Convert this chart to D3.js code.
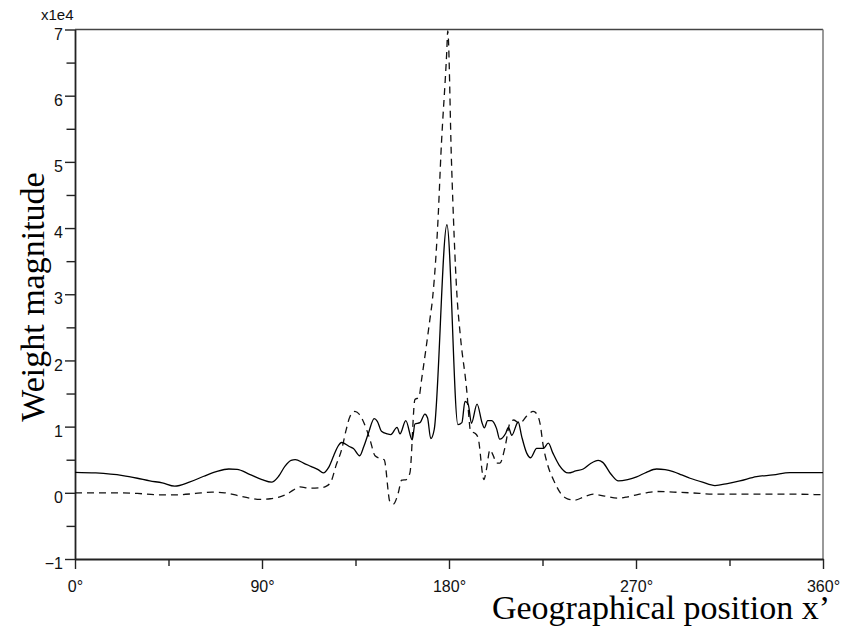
<!DOCTYPE html>
<html>
<head>
<meta charset="utf-8">
<script src="https://cdn.jsdelivr.net/npm/d3@7"></script>
<style>
  html, body { margin: 0; padding: 0; background: #fff; }
  svg { display: block; }
</style>
</head>
<body>
<svg id="chart" width="841" height="630"></svg>
<script>
// ---- data (values in units of 1e4) ----
const solidX = [0, 10, 23, 30, 36, 42, 48, 55, 62, 68, 74, 78, 84, 90, 94.6, 98, 101, 104, 106, 110, 113.5, 117, 119.5, 122, 124.5, 126.5, 128.3, 132, 134, 137, 139, 141.2, 144, 145.5, 147.5, 150.3, 152, 155, 156.4, 159.2, 162.3, 163.6, 166, 168.4, 169.7, 171.2, 172.9, 179, 184.3, 186.2, 187.7, 189.3, 190.8, 193.5, 195.9, 197, 198.6, 200.5, 202.9, 204.4, 207.3, 208.6, 210.2, 213.3, 215, 217.4, 219.3, 222.2, 225.4, 227.8, 230, 233, 237.4, 241, 244.6, 248, 251.8, 254, 258, 261.5, 266, 270.3, 275, 279.9, 284, 287.9, 292, 296, 302, 308, 314, 320, 328, 336, 344, 352, 360];
const solidY = [0.31, 0.30, 0.26, 0.22, 0.18, 0.15, 0.10, 0.16, 0.25, 0.32, 0.36, 0.355, 0.28, 0.20, 0.16, 0.25, 0.40, 0.49, 0.50, 0.45, 0.40, 0.35, 0.30, 0.38, 0.56, 0.70, 0.76, 0.70, 0.67, 0.56, 0.70, 0.90, 1.12, 1.08, 0.93, 0.89, 0.88, 0.99, 0.89, 1.09, 0.80, 1.04, 1.06, 1.19, 1.13, 0.82, 0.96, 4.05, 1.03, 1.06, 1.38, 1.33, 1.05, 1.34, 1.06, 0.98, 1.09, 1.09, 0.97, 0.81, 0.90, 0.99, 0.87, 1.07, 0.85, 0.60, 0.53, 0.67, 0.67, 0.75, 0.60, 0.42, 0.30, 0.33, 0.36, 0.44, 0.49, 0.46, 0.28, 0.18, 0.20, 0.24, 0.31, 0.36, 0.35, 0.32, 0.27, 0.22, 0.16, 0.11, 0.14, 0.18, 0.245, 0.27, 0.305, 0.305, 0.305];

const dashX = [0, 20, 30, 41, 49, 58, 66, 72, 78, 84, 89, 94, 98.6, 102, 105, 108.3, 113, 118, 121, 123.5, 125.5, 128.3, 130.5, 132.3, 134.7, 137, 140.4, 142, 144.4, 146.8, 148.8, 151.6, 153.2, 155.6, 157.2, 159.5, 161.2, 163.6, 165.5, 166.8, 170.8, 172.1, 174.8, 176.1, 178.9, 179.4, 181.2, 183.8, 185.5, 188.8, 189.3, 190.4, 192.5, 194, 196.8, 198, 199.7, 201.2, 202.9, 204.5, 206.9, 209.3, 211.2, 214, 217.4, 220.5, 222.5, 223.8, 225.4, 227.4, 230.3, 234.3, 237, 240.6, 245, 249.4, 255, 261.5, 266, 270.3, 275, 279.9, 288, 296, 308, 328, 344, 360];
const dashY = [0.0, 0.0, -0.01, -0.03, -0.03, -0.01, 0.01, 0.0, -0.04, -0.08, -0.10, -0.09, -0.06, -0.02, 0.04, 0.09, 0.07, 0.075, 0.10, 0.19, 0.40, 0.65, 0.95, 1.15, 1.23, 1.18, 0.95, 0.80, 0.56, 0.52, 0.50, -0.14, -0.17, 0.0, 0.19, 0.20, 0.30, 1.41, 1.44, 1.71, 2.62, 2.94, 4.18, 5.11, 6.65, 6.98, 5.0, 3.0, 2.36, 1.45, 1.25, 0.93, 0.90, 0.83, 0.20, 0.35, 0.65, 0.57, 0.45, 0.45, 0.68, 1.05, 1.10, 1.05, 1.16, 1.23, 1.18, 1.05, 0.70, 0.43, 0.195, -0.03, -0.09, -0.11, -0.06, -0.02, -0.05, -0.08, -0.06, -0.03, 0.0, 0.02, 0.01, 0.0, -0.02, -0.02, -0.02, -0.03];

const yMajorTicks = [-1, 0, 1, 2, 3, 4, 5, 6, 7];
const yMinorTicks = [-0.5, 0.5, 1.5, 2.5, 3.5, 4.5, 5.5, 6.5];
const xMajorTicks = [0, 90, 180, 270, 360];
const xMinorTicks = [45, 135, 225, 315];
const xTickLabels = ["0°", "90°", "180°", "270°", "360°"];
const yMultiplier = "x1e4";
const xTitle = "Geographical position x’";
const yTitle = "Weight magnitude";

// ---- layout ----
const L = 75, R = 823, T = 29.5, B = 559;
const svg = d3.select("#chart");
const x = d3.scaleLinear().domain([0, 360]).range([L, R]);
const y = d3.scaleLinear().domain([-1, 7]).range([B, T]);

const sans = "'Liberation Sans', Arial, Helvetica, sans-serif";
const serif = "'Liberation Serif', 'Times New Roman', Times, serif";

// frame: top and right
svg.append("line").attr("x1", L).attr("x2", R).attr("y1", T).attr("y2", T)
  .attr("stroke", "#444").attr("stroke-width", 1.5);
svg.append("line").attr("x1", R).attr("x2", R).attr("y1", T).attr("y2", B)
  .attr("stroke", "#777").attr("stroke-width", 1.5);

// left axis (major)
const yAxis = svg.append("g").attr("transform", `translate(${L},0)`)
  .call(d3.axisLeft(y).tickValues(yMajorTicks).tickSize(10).tickSizeOuter(0).tickPadding(3)
    .tickFormat(d => d < 0 ? "\u2212" + Math.abs(d) : String(d)));
yAxis.select(".domain").attr("stroke", "#222").attr("stroke-width", 1.8);
yAxis.selectAll(".tick line").attr("stroke", "#222").attr("stroke-width", 1.4);
yAxis.selectAll(".tick text").attr("font-family", sans).attr("font-size", 16)
  .attr("fill", "#111").attr("dy", "0.6em").attr("x", -12);
// left minor
svg.append("g").attr("transform", `translate(${L},0)`)
  .call(d3.axisLeft(y).tickValues(yMinorTicks).tickSize(8.5).tickSizeOuter(0).tickFormat(""))
  .call(g => g.select(".domain").remove())
  .call(g => g.selectAll(".tick line").attr("stroke", "#222").attr("stroke-width", 1.4));

// bottom axis (major)
const xAxis = svg.append("g").attr("transform", `translate(0,${B})`)
  .call(d3.axisBottom(x).tickValues(xMajorTicks).tickSize(10).tickSizeOuter(0)
    .tickFormat((d, i) => xTickLabels[i]));
xAxis.select(".domain").attr("stroke", "#222").attr("stroke-width", 1.8);
xAxis.selectAll(".tick line").attr("stroke", "#222").attr("stroke-width", 1.4);
xAxis.selectAll(".tick text").attr("font-family", sans).attr("font-size", 16)
  .attr("fill", "#111").attr("y", 33).attr("dy", 0);
// bottom minor
svg.append("g").attr("transform", `translate(0,${B})`)
  .call(d3.axisBottom(x).tickValues(xMinorTicks).tickSize(7).tickSizeOuter(0).tickFormat(""))
  .call(g => g.select(".domain").remove())
  .call(g => g.selectAll(".tick line").attr("stroke", "#222").attr("stroke-width", 1.4));

// multiplier
svg.append("text").attr("x", 41).attr("y", 20).attr("font-family", sans)
  .attr("font-size", 15).attr("fill", "#111").text(yMultiplier);

// titles
svg.append("text").attr("x", 830).attr("y", 619).attr("text-anchor", "end")
  .attr("font-family", serif).attr("font-size", 34).attr("fill", "#000").text(xTitle);
svg.append("text").attr("transform", `translate(44,297) rotate(-90)`)
  .attr("text-anchor", "middle").attr("font-family", serif).attr("font-size", 34)
  .attr("fill", "#000").text(yTitle);

// curves
const line = d3.line().x(d => x(d[0])).y(d => y(d[1])).curve(d3.curveMonotoneX);
const solid = solidX.map((v, i) => [v, solidY[i]]);
const dashed = dashX.map((v, i) => [v, dashY[i]]);

svg.append("path").datum(dashed).attr("d", line).attr("fill", "none")
  .attr("stroke", "#111").attr("stroke-width", 1.3).attr("stroke-dasharray", "7,5");
svg.append("path").datum(solid).attr("d", line).attr("fill", "none")
  .attr("stroke", "#000").attr("stroke-width", 1.3);
</script>
</body>
</html>
